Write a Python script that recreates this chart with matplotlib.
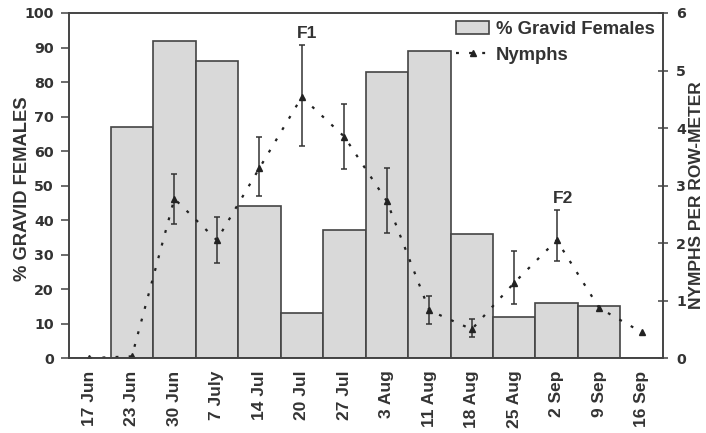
import matplotlib
matplotlib.use("Agg")
import matplotlib.pyplot as plt
import numpy as np

dates = ["17 Jun", "23 Jun", "30 Jun", "7 July", "14 Jul", "20 Jul", "27 Jul",
         "3 Aug", "11 Aug", "18 Aug", "25 Aug", "2 Sep", "9 Sep", "16 Sep"]
gravid = [0, 67, 92, 86, 44, 13, 37, 83, 89, 36, 12, 16, 15, 0]
nymphs = [0.0, 0.03, 2.77, 2.05, 3.3, 4.54, 3.85, 2.73, 0.83, 0.5, 1.31, 2.05, 0.87, 0.45]
nymph_hi = [0.0, 0.03, 3.2, 2.45, 3.85, 5.44, 4.42, 3.3, 1.08, 0.68, 1.86, 2.57, 0.87, 0.45]
nymph_lo = [0.0, 0.03, 2.33, 1.65, 2.82, 3.69, 3.29, 2.18, 0.6, 0.36, 0.94, 1.69, 0.87, 0.45]

plt.rcParams['font.family'] = ['Liberation Sans', 'DejaVu Sans']
plt.rcParams['font.weight'] = 'bold'
txt = '#333333'
edge = '#444444'
fs_tick = 10.3
tick_fam = ['DejaVu Sans']

fig = plt.figure(figsize=(7.06, 4.33), dpi=100)
ax = fig.add_axes([0.0977, 0.173, 0.8413, 0.797])
x = np.arange(len(dates))
bars = ax.bar(x, gravid, width=1.0, color='#d9d9d9', edgecolor=edge, linewidth=1.2,
              label='% Gravid Females')
ax.set_xlim(-0.48, 13.5)
ax.set_ylim(0, 100)
ax.set_yticks(np.arange(0, 101, 10))
ax.set_xticks(x)
ax.set_xticklabels(dates, rotation=90, fontsize=12.5, fontweight='bold', color=txt,
                   family=['Liberation Sans'])
ax.tick_params(axis='y', direction='out', length=6, width=1.1, color=edge, pad=5)
ax.tick_params(axis='x', length=0, pad=9)
for lab in ax.get_yticklabels():
    lab.set_fontweight('bold')
    lab.set_fontsize(fs_tick)
    lab.set_family(tick_fam)
    lab.set_color(txt)
ax.set_ylabel('% GRAVID FEMALES', fontsize=13.2, fontweight='bold', color=txt)
ax.yaxis.set_label_coords(-0.064, 0.49)
for s in ax.spines.values():
    s.set_color(edge)
    s.set_linewidth(1.2)

ax2 = ax.twinx()
ax2.set_ylim(0, 6)
nv = np.array(nymphs)
lo_err = np.clip(nv - np.array(nymph_lo), 0, None)
hi_err = np.clip(np.array(nymph_hi) - nv, 0, None)
has_err = (lo_err + hi_err) > 0
ax2.errorbar(x[has_err], nv[has_err], yerr=[lo_err[has_err], hi_err[has_err]], fmt='none',
             ecolor='#333333', elinewidth=1.1, capsize=2.5, capthick=1.1)
ln, = ax2.plot(x, nymphs, linestyle=(0, (1.3, 4.6)), color='#222222', linewidth=1.6,
               marker='^', markersize=4.5, label='Nymphs')
ax2.set_yticks(np.arange(0, 7, 1))
ax2.tick_params(axis='y', direction='inout', length=7, width=1.1, color=edge, pad=6)
for lab in ax2.get_yticklabels():
    lab.set_fontweight('bold')
    lab.set_fontsize(fs_tick)
    lab.set_family(tick_fam)
    lab.set_color(txt)
ax2.set_ylabel('NYMPHS PER ROW-METER', fontsize=12.5, fontweight='bold', color=txt)
ax2.yaxis.set_label_coords(1.044, 0.472)
for s in ax2.spines.values():
    s.set_color(edge)
    s.set_linewidth(1.2)

ax2.text(5.12, 5.57, 'F1', ha='center', va='baseline', fontsize=12.5, fontweight='bold', color=txt)
ax2.text(11.14, 2.70, 'F2', ha='center', va='baseline', fontsize=12.5, fontweight='bold', color=txt)

leg = ax2.legend([bars, ln], ['% Gravid Females', 'Nymphs'], loc='upper right',
                 frameon=False, fontsize=13.3, borderaxespad=0.0, handlelength=1.8,
                 labelspacing=0.45, handletextpad=0.35, borderpad=0.45)
for t in leg.get_texts():
    t.set_color(txt)
    t.set_fontweight('bold')

fig.savefig('out.png', dpi=100)
